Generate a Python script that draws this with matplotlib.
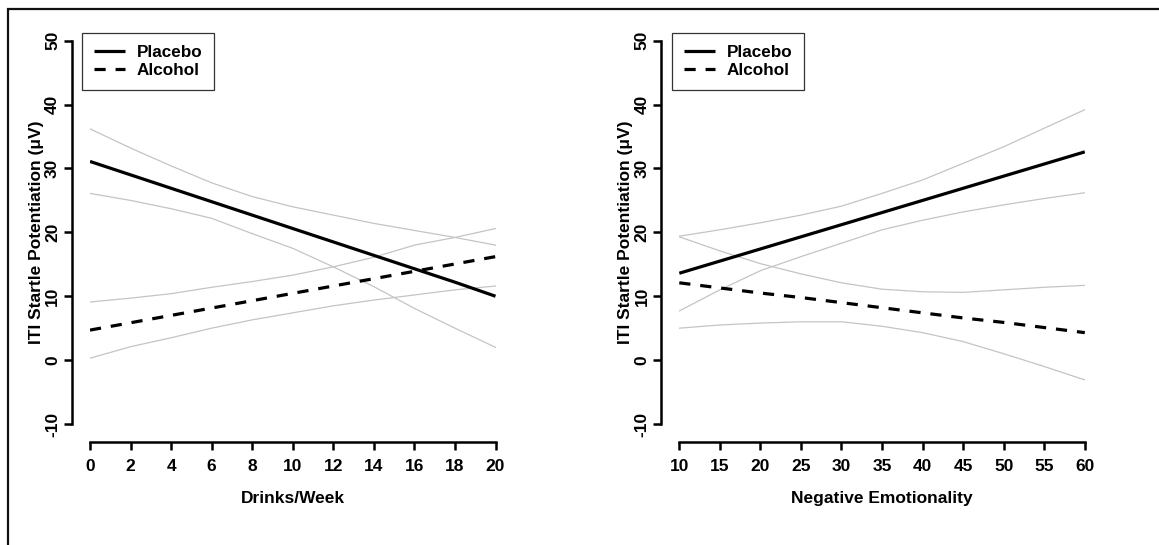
import matplotlib.pyplot as plt
from matplotlib.patches import Rectangle

plt.rcParams['font.family'] = ['Liberation Sans', 'DejaVu Sans']
plt.rcParams['font.weight'] = 'bold'

# left panel: drinks / week
drinks_x = [0, 2, 4, 6, 8, 10, 12, 14, 16, 18, 20]
drinks_placebo = [31.1, 29.0, 26.9, 24.8, 22.7, 20.6, 18.5, 16.4, 14.3, 12.2, 10.0]
drinks_alcohol = [4.7, 5.85, 7.0, 8.15, 9.3, 10.45, 11.6, 12.75, 13.9, 15.05, 16.2]
drinks_plac_hi = [36.2, 33.2, 30.4, 27.75, 25.6, 24.0, 22.7, 21.4, 20.3, 19.2, 18.0]
drinks_plac_lo = [26.1, 25.0, 23.7, 22.2, 19.8, 17.5, 14.6, 11.5, 8.1, 5.0, 2.0]
drinks_alc_hi = [9.1, 9.7, 10.4, 11.4, 12.3, 13.3, 14.6, 16.1, 18.0, 19.2, 20.6]
drinks_alc_lo = [0.3, 2.1, 3.5, 5.0, 6.3, 7.4, 8.5, 9.4, 10.2, 11.0, 11.6]

# right panel: negative emotionality
ne_x = [10, 15, 20, 25, 30, 35, 40, 45, 50, 55, 60]
ne_placebo = [13.6, 15.5, 17.4, 19.3, 21.2, 23.1, 25.0, 26.9, 28.8, 30.7, 32.6]
ne_alcohol = [12.1, 11.3, 10.5, 9.8, 9.0, 8.2, 7.4, 6.6, 5.9, 5.1, 4.3]
ne_plac_hi = [19.4, 20.4, 21.5, 22.7, 24.1, 26.1, 28.2, 30.8, 33.4, 36.3, 39.2]
ne_plac_lo = [7.7, 11.0, 14.0, 16.2, 18.3, 20.4, 21.9, 23.2, 24.3, 25.3, 26.2]
ne_alc_hi = [19.3, 17.1, 15.1, 13.5, 12.1, 11.1, 10.7, 10.6, 11.0, 11.4, 11.7]
ne_alc_lo = [5.0, 5.5, 5.8, 6.0, 6.0, 5.3, 4.3, 2.9, 1.0, -1.0, -3.1]

y_ticks = [-10, 0, 10, 20, 30, 40, 50]
ylabel = 'ITI Startle Potentiation (\u03bcV)'

W, H = 1159, 545
fig = plt.figure(figsize=(W / 100, H / 100), dpi=100)

# outer frame (cut off at right and bottom)
fig.patches.append(Rectangle((8 / W, -0.2), 1.2, 1 - 9 / H + 0.2,
                             transform=fig.transFigure, fill=False,
                             edgecolor='#111111', lw=1.6))

panels = [
    (90, drinks_x, drinks_placebo, drinks_alcohol, [drinks_plac_hi, drinks_plac_lo, drinks_alc_hi, drinks_alc_lo],
     'Drinks/Week', list(range(0, 21, 2)), (0, 20), 82),
    (679.3, ne_x, ne_placebo, ne_alcohol, [ne_plac_hi, ne_plac_lo, ne_alc_hi, ne_alc_lo],
     'Negative Emotionality', list(range(10, 61, 5)), (10, 60), 672),
]

for left_px, x, plac, alc, cis, xlabel, xticks, xlim, leg_px in panels:
    ax = fig.add_axes([left_px / W, 121 / H, 405.5 / W, 383.3 / H])
    ax.set_xlim(*xlim)
    ax.set_ylim(-10, 50)
    for ci in cis:
        ax.plot(x, ci, color='#c4c4c4', lw=0.9)
    l1, = ax.plot(x, plac, color='black', lw=2.3, solid_capstyle='butt')
    l2, = ax.plot(x, alc, color='black', lw=2.3, linestyle=(0, (3.5, 3.1)))

    for s in ['top', 'right']:
        ax.spines[s].set_visible(False)
    ax.spines['left'].set_position(('outward', 13))
    ax.spines['bottom'].set_position(('outward', 12.7))
    ax.spines['left'].set_bounds(-10, 50)
    ax.spines['bottom'].set_bounds(*xlim)
    for s in ['left', 'bottom']:
        ax.spines[s].set_linewidth(1.8)
        ax.spines[s].set_capstyle('projecting')
    ax.set_xticks(xticks)
    ax.set_yticks(y_ticks)
    ax.set_yticklabels([str(v) for v in y_ticks], rotation=90, va='center')
    ax.tick_params(axis='both', length=5.5, width=1.8, labelsize=12.5)
    ax.tick_params(axis='x', pad=7)
    ax.tick_params(axis='y', pad=3)
    for lab in ax.get_xticklabels() + ax.get_yticklabels():
        lab.set_fontweight('bold')
    ax.set_xlabel(xlabel, fontsize=12.5, fontweight='bold', labelpad=12)
    ax.set_ylabel(ylabel, fontsize=12.5, fontweight='bold', labelpad=1)

    leg = ax.legend([l1, l2], ['Placebo', 'Alcohol'], loc='upper left',
                    bbox_to_anchor=(leg_px / W, 1 - 33 / H), bbox_transform=fig.transFigure,
                    borderaxespad=0, fancybox=False, framealpha=1, edgecolor='#333333',
                    prop={'size': 12.3, 'weight': 'bold'}, handlelength=1.8,
                    handletextpad=0.7, labelspacing=0.2, borderpad=0.7)
    leg.get_frame().set_linewidth(0.9)

fig.savefig('out.png', dpi=100)
